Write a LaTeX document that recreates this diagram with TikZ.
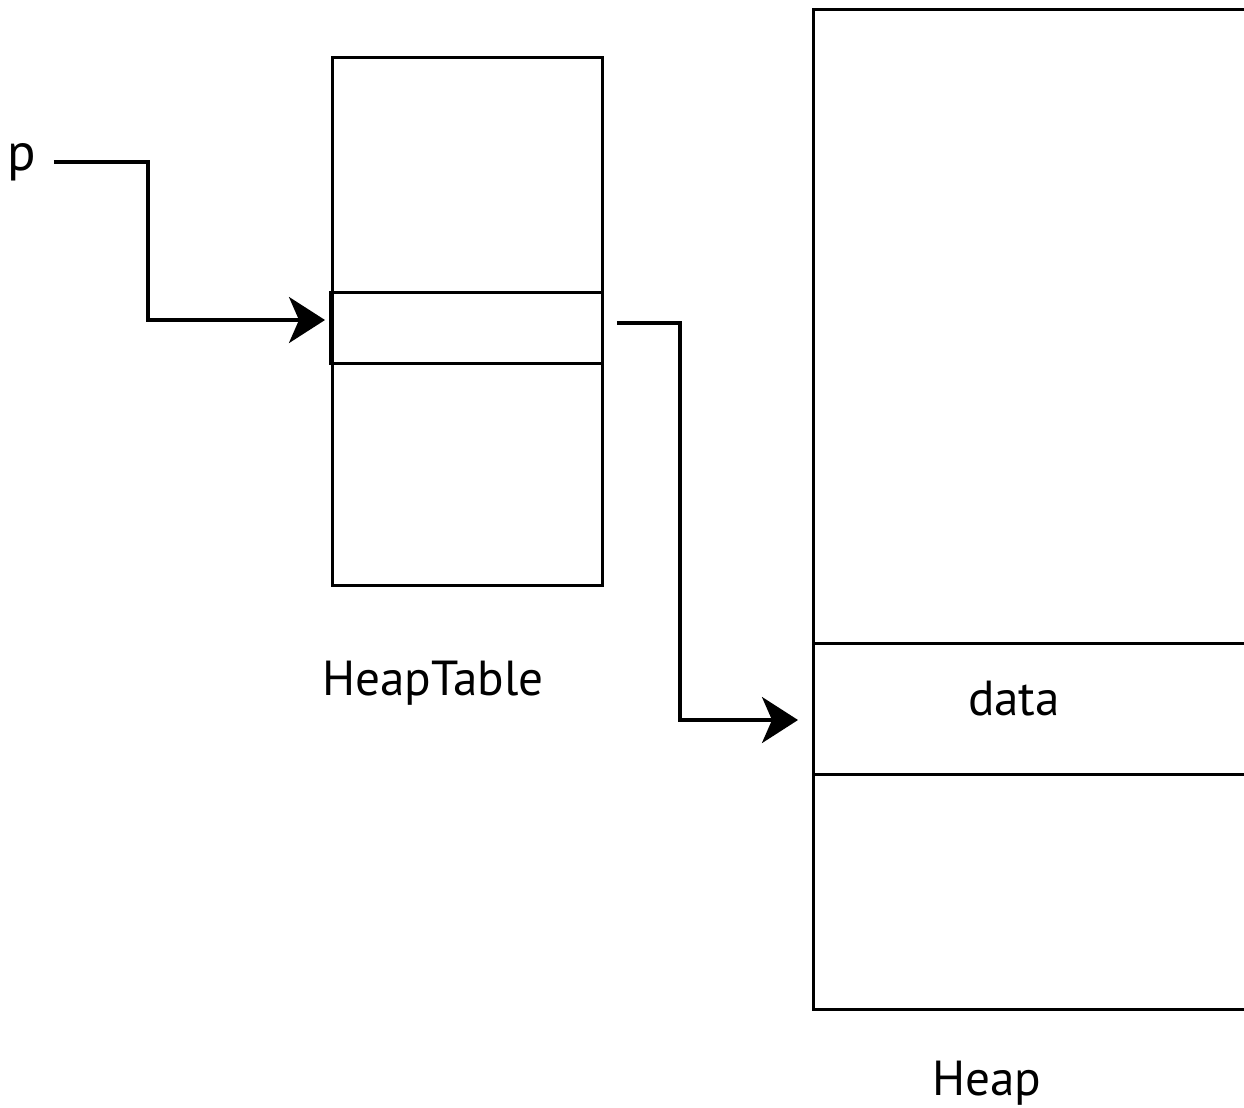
\documentclass[tikz,border=0pt]{standalone}
\usepackage{fontspec}
\setmainfont{PT Sans}
\usetikzlibrary{arrows.meta,positioning,calc}

\tikzset{
  cell/.style={draw,line width=0.85pt,inner sep=0pt},
  ptr/.style={line width=1.05pt,-{Stealth[length=3.6mm,width=4.6mm,inset=1mm]}},
  lbl/.style={font=\fontsize{14}{16}\selectfont,inner sep=0pt,anchor=base},
}

\begin{document}
\begin{tikzpicture}
  \useasboundingbox (0,0) rectangle (12.44,-11.07);
  \clip (0,0) rectangle (12.44,-11.07);

  % the table of handles, with the slot p points at
  \node[cell,minimum width=2.70cm,minimum height=5.28cm,anchor=north west] (table) at (3.31,-0.56) {};
  \node[cell,minimum width=2.72cm,minimum height=0.71cm,anchor=north west] (slot) at (3.29,-2.91) {};
  \node[lbl] (tablename) at (4.33,-6.95) {HeapTable};

  % the heap itself, running off to the right
  \node[cell,minimum width=4.60cm,minimum height=10.00cm,anchor=north west] (heap) at (8.12,-0.08) {};
  \node[cell,minimum width=4.60cm,minimum height=1.31cm,anchor=north west] (heapslot) at (8.12,-6.42) {};
  \node[lbl] (data) at (10.14,-7.15) {data};
  \node[lbl] (heapname) at (9.87,-10.95) {Heap};

  \node[lbl,font=\fontsize{15}{17}\selectfont] (p) at (0.22,-1.70) {p};

  % pointers
  \coordinate (kneeA) at (1.48,0);
  \coordinate (kneeB) at (6.80,0);
  \draw[ptr,shorten >=0.4mm] ([xshift=1.7mm]p.east) coordinate (outA)
    -- (outA -| kneeA) |- ([yshift=0.8mm]slot.west);
  \draw[ptr,shorten >=1.4mm] ([xshift=1.3mm,yshift=0.5mm]slot.east) coordinate (outB)
    -- (outB -| kneeB) |- ([yshift=-1.1mm]heapslot.west);
\end{tikzpicture}
\end{document}
